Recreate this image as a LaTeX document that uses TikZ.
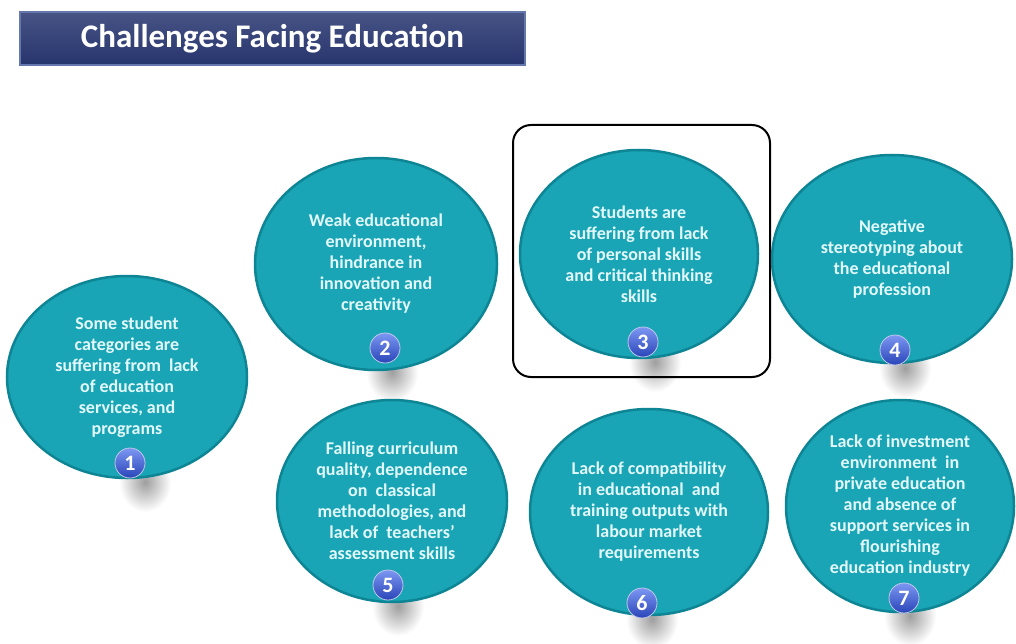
\documentclass[tikz,border=0pt]{standalone}
\usepackage{fontspec}
\setmainfont{Carlito}
\usetikzlibrary{
	shapes,positioning
}
\definecolor{tealfill}{HTML}{19A5B5}
\definecolor{tealrim}{HTML}{0E8594}
\definecolor{tealtext}{HTML}{E2F8FA}
\definecolor{navy}{HTML}{27356E}
\definecolor{navyrim}{HTML}{6478AE}
\definecolor{badgetop}{HTML}{7C97F2}
\definecolor{badgebot}{HTML}{2A45B8}
\tikzset{
	bubble/.style={ellipse,draw=tealrim,line width=2.5pt,fill=tealfill,inner sep=0pt,
		align=center,text=tealtext,font=\bfseries\fontsize{18}{21}\selectfont},
	badge/.style={circle,draw=white!70!badgebot,line width=0.8pt,top color=badgetop,
		bottom color=badgebot,minimum size=30pt,inner sep=0pt,text=white,
		font=\bfseries\fontsize{22}{22}\selectfont},
	drop/.style={inner color=black!38,outer color=white}
}
\begin{document}
\begin{tikzpicture}[x=1pt,y=-1pt]
		\useasboundingbox[fill=white] (0,0) rectangle (1016,644);
		% title
		\node[draw=navyrim,line width=2pt,top color=navy!85!white,bottom color=navy,
			minimum width=505pt,minimum height=53pt,text=white,
			font=\bfseries\fontsize{33}{33}\selectfont] (T) at (272.5,38.5) {Challenges Facing Education};
		% shadows under the bubbles
		\shade[drop] (145,482) ellipse (26 and 30);
		\shade[drop] (392,372) ellipse (26 and 30);
		\shade[drop] (655,362) ellipse (26 and 30);
		\shade[drop] (905,368) ellipse (26 and 30);
		\shade[drop] (398,606) ellipse (26 and 30);
		\shade[drop] (652,619) ellipse (26 and 30);
		\shade[drop] (910,616) ellipse (26 and 30);
		%
		\draw[line width=2pt,rounded corners=18pt] (513,125) rectangle (770,377);
		%
		\node[bubble,minimum width=240pt,minimum height=202pt] (A) at (127,377)
			{Some student\\categories are\\suffering from\ \ lack\\of education\\services, and\\programs};
		\node[bubble,minimum width=242pt,minimum height=212pt] (B) at (376,264)
			{Weak educational\\environment,\\hindrance in\\innovation and\\creativity};
		\node[bubble,minimum width=238pt,minimum height=208pt] (C) at (639,254)
			{Students are\\suffering from lack\\of personal skills\\and critical thinking\\skills};
		\node[bubble,minimum width=240pt,minimum height=208pt] (D) at (892,259)
			{Negative\\stereotyping about\\the educational\\profession};
		\node[bubble,minimum width=230pt,minimum height=202pt] (E) at (392,501)
			{Falling curriculum\\quality, dependence\\on\ \ classical\\methodologies, and\\lack of\ \ teachers'\\assessment skills};
		\node[bubble,minimum width=238pt,minimum height=206pt] (F) at (649,512)
			{Lack of compatibility\\in educational\ \ and\\training outputs with\\labour market\\requirements};
		\node[bubble,minimum width=228pt,minimum height=212pt] (G) at (900,506)
			{Lack of investment\\environment\ \ in\\private education\\and absence of\\support services in\\flourishing\\education industry};
		% numbers
		\node[badge] (A') at (130,463) {1};
		\node[badge] (B') at (385,348) {2};
		\node[badge] (C') at (643,342) {3};
		\node[badge] (D') at (895,350) {4};
		\node[badge] (E') at (388,585) {5};
		\node[badge] (F') at (642,603) {6};
		\node[badge] (G') at (904,598) {7};
	\end{tikzpicture}
\end{document}
